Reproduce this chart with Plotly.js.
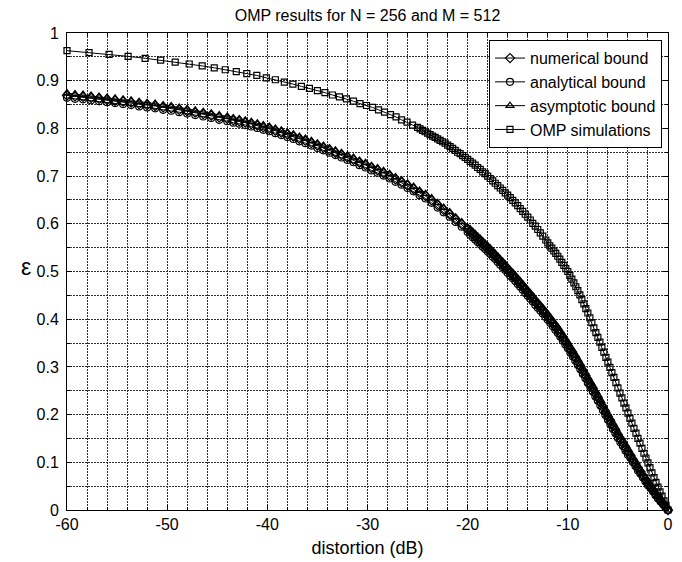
<!DOCTYPE html>
<html>
<head>
<meta charset="utf-8">
<script src="https://cdn.plot.ly/plotly-3.0.1.min.js"></script>
<style>html,body{margin:0;padding:0;background:#fff;}#chart{width:682px;height:562px;}</style>
</head>
<body>
<div id="chart"></div>
<script>
// ---- data ----
const boundsX = [
-60, -59.2, -58.4, -57.6, -56.8, -56, -55.2, -54.4, -53.6, -52.8, -52, -51.2, -50.4, -49.6, -48.8, -48, -47.2, -46.4, -45.6, -44.8, -44,
-43.4, -42.8, -42.2, -41.6, -41, -40.4, -39.8, -39.2, -38.6, -38, -37.4, -36.8, -36.2, -35.6, -35, -34.4, -33.8, -33.2, -32.6, -32,
-31.4, -30.8, -30.2, -29.6, -29, -28.4, -27.8, -27.2, -26.6, -26, -25.4, -24.8, -24.2, -23.6, -23, -22.4, -21.8, -21.2, -20.6, -20,
-19.75, -19.5, -19.25, -19, -18.75, -18.5, -18.25, -18, -17.75, -17.5, -17.25, -17, -16.75, -16.5, -16.25, -16,
-15.75, -15.5, -15.25, -15, -14.75, -14.5, -14.25, -14, -13.75, -13.5, -13.25, -13, -12.75, -12.5, -12.25, -12,
-11.75, -11.5, -11.25, -11, -10.75, -10.5, -10.25, -10, -9.75, -9.5, -9.25, -9, -8.75, -8.5, -8.25, -8,
-7.75, -7.5, -7.25, -7, -6.75, -6.5, -6.25, -6, -5.75, -5.5, -5.25, -5, -4.75, -4.5, -4.25, -4,
-3.75, -3.5, -3.25, -3, -2.75, -2.5, -2.25, -2, -1.75, -1.5, -1.25, -1, -0.75, -0.5, -0.25, 0
];
const numericalBound = [
0.869, 0.867, 0.866, 0.864, 0.862, 0.860, 0.858, 0.856, 0.854, 0.851, 0.849, 0.847, 0.844, 0.842, 0.839, 0.836, 0.833, 0.830, 0.827, 0.823, 0.820,
0.817, 0.815, 0.812, 0.809, 0.806, 0.802, 0.799, 0.795, 0.791, 0.787, 0.783, 0.778, 0.774, 0.769, 0.764, 0.759, 0.754, 0.749, 0.744, 0.739,
0.734, 0.728, 0.723, 0.717, 0.712, 0.706, 0.700, 0.693, 0.687, 0.680, 0.673, 0.665, 0.658, 0.649, 0.639, 0.629, 0.620, 0.609, 0.599, 0.588,
0.583, 0.578, 0.573, 0.568, 0.563, 0.558, 0.553, 0.548, 0.543, 0.537, 0.532, 0.526, 0.520, 0.515, 0.509, 0.503,
0.497, 0.492, 0.486, 0.480, 0.474, 0.468, 0.461, 0.455, 0.449, 0.443, 0.436, 0.430, 0.424, 0.418, 0.411, 0.405,
0.398, 0.391, 0.384, 0.377, 0.369, 0.361, 0.353, 0.345, 0.336, 0.328, 0.319, 0.310, 0.301, 0.291, 0.282, 0.272,
0.263, 0.254, 0.244, 0.235, 0.225, 0.215, 0.205, 0.195, 0.186, 0.176, 0.167, 0.157, 0.148, 0.140, 0.131, 0.122,
0.114, 0.105, 0.097, 0.088, 0.080, 0.072, 0.064, 0.056, 0.049, 0.042, 0.034, 0.027, 0.020, 0.014, 0.007, 0.000
];
const analyticalBound = [
0.864, 0.862, 0.861, 0.859, 0.857, 0.855, 0.853, 0.851, 0.849, 0.846, 0.844, 0.842, 0.839, 0.837, 0.834, 0.831, 0.828, 0.825, 0.822, 0.818, 0.815,
0.812, 0.810, 0.807, 0.804, 0.801, 0.797, 0.794, 0.790, 0.786, 0.782, 0.778, 0.773, 0.769, 0.764, 0.759, 0.754, 0.749, 0.744, 0.739, 0.734,
0.729, 0.723, 0.718, 0.712, 0.707, 0.701, 0.695, 0.688, 0.682, 0.675, 0.668, 0.660, 0.653, 0.644, 0.634, 0.624, 0.615, 0.604, 0.594, 0.583,
0.577, 0.572, 0.567, 0.562, 0.557, 0.552, 0.547, 0.542, 0.537, 0.531, 0.526, 0.520, 0.514, 0.509, 0.503, 0.497,
0.491, 0.486, 0.480, 0.474, 0.468, 0.462, 0.455, 0.449, 0.443, 0.437, 0.430, 0.424, 0.418, 0.412, 0.405, 0.399,
0.392, 0.385, 0.378, 0.371, 0.363, 0.355, 0.347, 0.339, 0.330, 0.322, 0.313, 0.304, 0.295, 0.285, 0.276, 0.266,
0.257, 0.248, 0.238, 0.229, 0.219, 0.209, 0.199, 0.189, 0.180, 0.170, 0.161, 0.151, 0.142, 0.134, 0.125, 0.116,
0.109, 0.100, 0.092, 0.083, 0.076, 0.068, 0.060, 0.052, 0.046, 0.039, 0.031, 0.024, 0.018, 0.012, 0.006, 0.000
];
const asymptoticBound = [
0.874, 0.872, 0.871, 0.869, 0.867, 0.865, 0.863, 0.861, 0.859, 0.856, 0.854, 0.852, 0.849, 0.847, 0.844, 0.841, 0.838, 0.835, 0.832, 0.828, 0.825,
0.822, 0.820, 0.817, 0.814, 0.811, 0.807, 0.804, 0.800, 0.796, 0.792, 0.788, 0.783, 0.779, 0.774, 0.769, 0.764, 0.759, 0.754, 0.749, 0.744,
0.739, 0.733, 0.728, 0.722, 0.717, 0.711, 0.705, 0.698, 0.692, 0.685, 0.678, 0.670, 0.663, 0.654, 0.644, 0.634, 0.625, 0.614, 0.604, 0.593,
0.589, 0.584, 0.579, 0.574, 0.569, 0.564, 0.559, 0.554, 0.549, 0.543, 0.538, 0.532, 0.526, 0.521, 0.515, 0.509,
0.503, 0.498, 0.492, 0.486, 0.480, 0.474, 0.467, 0.461, 0.455, 0.449, 0.442, 0.436, 0.430, 0.424, 0.417, 0.411,
0.404, 0.397, 0.390, 0.383, 0.375, 0.367, 0.359, 0.351, 0.342, 0.334, 0.325, 0.316, 0.307, 0.297, 0.288, 0.278,
0.269, 0.260, 0.250, 0.241, 0.231, 0.221, 0.211, 0.201, 0.192, 0.182, 0.173, 0.163, 0.154, 0.146, 0.137, 0.128,
0.119, 0.110, 0.102, 0.093, 0.084, 0.076, 0.068, 0.060, 0.052, 0.045, 0.037, 0.030, 0.022, 0.015, 0.008, 0.000
];
const ompX = [
-60, -57.8, -55.8, -53.9, -52.2, -50.65, -49.2, -47.8, -46.5, -45.3, -44.2, -43.1, -42.05, -41.05, -40.1, -39.2, -38.3, -37.45, -36.6,
-35.8, -35, -34.25, -33.5, -32.8, -32.1, -31.4, -30.75, -30.1, -29.5, -28.9, -28.3, -27.7, -27.15, -26.6, -26.05, -25.5, -25,
-24.75, -24.5, -24.25, -24, -23.75, -23.5, -23.25, -23, -22.75, -22.5, -22.25, -22, -21.75, -21.5, -21.25, -21, -20.75, -20.5, -20.25, -20,
-19.75, -19.5, -19.25, -19, -18.75, -18.5, -18.25, -18, -17.75, -17.5, -17.25, -17, -16.75, -16.5, -16.25, -16,
-15.75, -15.5, -15.25, -15, -14.75, -14.5, -14.25, -14, -13.75, -13.5, -13.25, -13, -12.75, -12.5,
-12.2, -12, -11.8, -11.6, -11.4, -11.2, -11, -10.8, -10.6, -10.4, -10.2, -10, -9.8, -9.6, -9.4, -9.2, -9, -8.8, -8.6, -8.4, -8.2, -8,
-7.8, -7.6, -7.4, -7.2, -7, -6.8, -6.6, -6.4, -6.2, -6, -5.8, -5.6, -5.4, -5.2, -5, -4.8, -4.6, -4.4, -4.2, -4,
-3.8, -3.6, -3.4, -3.2, -3, -2.8, -2.6, -2.4, -2.2, -2, -1.8, -1.6, -1.4, -1.2, -1, -0.8, -0.6, -0.4, -0.2, 0
];
const ompSimulations = [
0.963, 0.959, 0.955, 0.951, 0.947, 0.943, 0.939, 0.935, 0.931, 0.927, 0.923, 0.919, 0.915, 0.911, 0.906, 0.902, 0.897, 0.893, 0.888,
0.884, 0.879, 0.875, 0.870, 0.866, 0.862, 0.857, 0.852, 0.848, 0.844, 0.839, 0.834, 0.829, 0.824, 0.818, 0.813, 0.807, 0.802,
0.799, 0.796, 0.793, 0.790, 0.787, 0.784, 0.781, 0.778, 0.775, 0.772, 0.769, 0.765, 0.762, 0.758, 0.754, 0.750, 0.747, 0.743, 0.739, 0.735,
0.731, 0.727, 0.723, 0.718, 0.714, 0.709, 0.705, 0.700, 0.695, 0.690, 0.685, 0.680, 0.675, 0.670, 0.665, 0.660,
0.655, 0.649, 0.644, 0.638, 0.632, 0.626, 0.620, 0.614, 0.608, 0.601, 0.595, 0.588, 0.581, 0.574,
0.566, 0.560, 0.554, 0.549, 0.543, 0.538, 0.532, 0.526, 0.519, 0.513, 0.506, 0.500, 0.492, 0.484, 0.476, 0.468, 0.460, 0.451, 0.441, 0.432, 0.422, 0.413,
0.403, 0.393, 0.382, 0.372, 0.362, 0.352, 0.341, 0.331, 0.320, 0.310, 0.299, 0.288, 0.278, 0.267, 0.256, 0.245, 0.235, 0.224, 0.214, 0.203,
0.192, 0.182, 0.171, 0.161, 0.150, 0.140, 0.129, 0.119, 0.109, 0.099, 0.089, 0.078, 0.068, 0.058, 0.048, 0.038, 0.029, 0.019, 0.010, 0.000
];
const seriesNames = ['numerical bound', 'analytical bound', 'asymptotic bound', 'OMP simulations'];
const xTickVals = [-60, -50, -40, -30, -20, -10, 0];
const xTickText = ['-60', '-50', '-40', '-30', '-20', '-10', '0'];
const yTickVals = [0, 0.1, 0.2, 0.3, 0.4, 0.5, 0.6, 0.7, 0.8, 0.9, 1];
const yTickText = ['0', '0.1', '0.2', '0.3', '0.4', '0.5', '0.6', '0.7', '0.8', '0.9', '1'];
const titleText = 'OMP results for N = 256 and M = 512';
const xTitle = 'distortion (dB)';
const yTitle = 'ε';

// ---- styling ----
const FONT = 'Liberation Sans, Arial, Helvetica, sans-serif';
function tr(x, y, name, symbol, size) {
  return {
    type: 'scatter', mode: 'lines+markers', x: x, y: y, name: name,
    line: {color: '#000', width: 1},
    marker: {symbol: symbol, size: size, color: '#000', line: {color: '#000', width: 1.2}},
    cliponaxis: false
  };
}
const data = [
  tr(boundsX, numericalBound, seriesNames[0], 'diamond-open', 7),
  tr(boundsX, analyticalBound, seriesNames[1], 'circle-open', 7),
  tr(boundsX, asymptoticBound, seriesNames[2], 'triangle-up-open', 7),
  tr(ompX, ompSimulations, seriesNames[3], 'square-open', 6)
];
const gridDash = '2px,1px';
const gridColor = '#333';
const axisCommon = {
  showline: true, linecolor: '#000', linewidth: 1, mirror: 'ticks',
  ticks: 'inside', ticklen: 5, tickcolor: '#000', tickwidth: 1,
  showgrid: true, gridcolor: gridColor, gridwidth: 1, griddash: gridDash,
  zeroline: false, tickfont: {family: FONT, size: 16, color: '#000'}
};
const layout = {
  width: 682, height: 562,
  paper_bgcolor: '#fff', plot_bgcolor: '#fff',
  margin: {l: 67, r: 14, t: 33, b: 52},
  font: {family: FONT, color: '#000'},
  title: {text: titleText, font: {family: FONT, size: 16, color: '#000'}, xref: 'paper', x: 0.5, xanchor: 'center', yref: 'container', y: 1 - 15/562, yanchor: 'middle'},
  xaxis: Object.assign({}, axisCommon, {
    range: [-60, 0], tickmode: 'array', tickvals: xTickVals, ticktext: xTickText,
    minor: {dtick: 2, tick0: 0, showgrid: true, gridcolor: gridColor, gridwidth: 1, griddash: gridDash, ticks: 'inside', ticklen: 3, tickcolor: '#000'},
    title: {text: xTitle, font: {family: FONT, size: 18, color: '#000'}, standoff: 9}
  }),
  yaxis: Object.assign({}, axisCommon, {
    range: [0, 1], tickmode: 'array', tickvals: yTickVals, ticktext: yTickText, ticklabelstandoff: 4,
    minor: {dtick: 0.05, tick0: 0, showgrid: true, gridcolor: gridColor, gridwidth: 1, griddash: gridDash, ticks: 'inside', ticklen: 3, tickcolor: '#000'}
  }),
  showlegend: true,
  legend: {x: 0.99, xanchor: 'right', y: 0.985, yanchor: 'top', bgcolor: '#fff', bordercolor: '#000', borderwidth: 1,
           font: {family: FONT, size: 16, color: '#000'}, tracegroupgap: 0, itemwidth: 30},
  annotations: [{text: yTitle, xref: 'paper', yref: 'paper', x: -0.068, y: 0.51, xanchor: 'center', yanchor: 'middle',
                 showarrow: false, font: {family: FONT, size: 23, color: '#000'}}]
};
Plotly.newPlot('chart', data, layout, {staticPlot: true, displayModeBar: false});
</script>
</body>
</html>
